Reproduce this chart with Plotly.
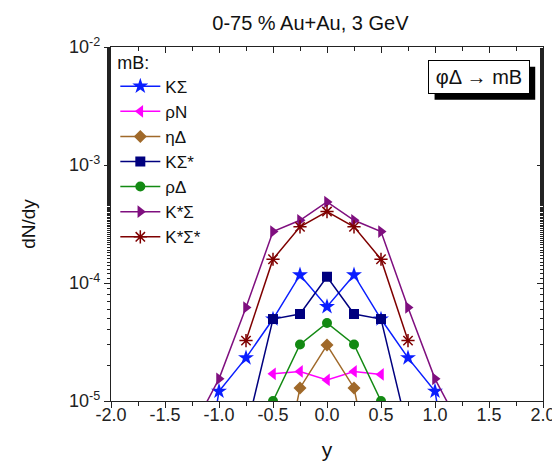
import plotly.graph_objects as go

# ---- data ----
y_rap = [-1.25, -1.0, -0.75, -0.5, -0.25, 0.0, 0.25, 0.5, 0.75, 1.0, 1.25]

KSigma      = [5.0e-7, 1.21e-5, 2.32e-5, 4.95e-5, 1.17e-4, 6.3e-5, 1.17e-4, 4.95e-5, 2.32e-5, 1.21e-5, 5.0e-7]
rhoN        = [None, None, None, 1.70e-5, 1.78e-5, 1.51e-5, 1.78e-5, 1.68e-5, None, None, None]
etaDelta    = [None, None, None, 1.0e-6, 1.29e-5, 2.98e-5, 1.29e-5, 1.0e-6, None, None, None]
KSigmaStar  = [None, None, 5.5e-6, 4.95e-5, 5.46e-5, 1.13e-4, 5.46e-5, 4.95e-5, 5.5e-6, None, None]
rhoDelta    = [None, None, None, 1.0e-5, 3.01e-5, 4.58e-5, 3.01e-5, 1.0e-5, None, None, None]
KstSigma    = [5.7e-6, 1.54e-5, 6.2e-5, 2.73e-4, 3.40e-4, 4.86e-4, 3.40e-4, 2.73e-4, 6.2e-5, 1.54e-5, 5.7e-6]
KstSigmaSt  = [None, None, 3.25e-5, 1.59e-4, 2.99e-4, 4.03e-4, 2.99e-4, 1.59e-4, 3.25e-5, None, None]

x_ticks = [-2.0, -1.5, -1.0, -0.5, 0.0, 0.5, 1.0, 1.5, 2.0]
x_ticklabels = ["-2.0", "-1.5", "-1.0", "-0.5", "0.0", "0.5", "1.0", "1.5", "2.0"]
y_ticks = [1e-5, 1e-4, 1e-3, 1e-2]
y_ticklabels = ["10<sup>-5</sup>", "10<sup>-4</sup>", "10<sup>-3</sup>", "10<sup>-2</sup>"]

series = [
    ("KΣ", KSigma, "#0a1eff", "star", 12, False),
    ("ρN", rhoN, "#ff00ff", "triangle-left", 11, False),
    ("ηΔ", etaDelta, "#a0692a", "diamond", 10, False),
    ("KΣ*", KSigmaStar, "#00007f", "square", 10, False),
    ("ρΔ", rhoDelta, "#138a13", "circle", 10, False),
    ("K*Σ", KstSigma, "#7f0f7f", "triangle-right", 11, False),
    ("K*Σ*", KstSigmaSt, "#7f0000", "asterisk", 11, True),
]

FONT = "Liberation Sans, Arial, sans-serif"

fig = go.Figure()
for i, (name, vals, col, sym, size, is_line_sym) in enumerate(series):
    marker = dict(symbol=sym, size=size, color=col)
    if is_line_sym:
        marker["line"] = dict(color=col, width=1.5)
    fig.add_trace(go.Scatter(
        x=y_rap, y=vals, name=name, mode="lines+markers",
        line=dict(color=col, width=1.5), marker=marker,
        connectgaps=False, legendgroup=f"g{i}",
    ))

axis_common = dict(showline=True, linecolor="#222", linewidth=1.2,
                   showgrid=False, zeroline=False,
                   tickfont=dict(family=FONT, size=18, color="#222"))

fig.update_layout(
    width=560, height=461,
    margin=dict(l=103, r=15, t=39, b=67),
    paper_bgcolor="white", plot_bgcolor="white",
    font=dict(family=FONT, color="#111"),
    title=dict(text="0-75 % Au+Au, 3 GeV", x=0.54, xanchor="center",
               y=0.968, yanchor="middle", font=dict(family=FONT, size=20, color="#111")),
    xaxis=dict(range=[-2, 2], tickvals=x_ticks, ticktext=x_ticklabels,
               ticks="outside", ticklen=6, tickcolor="#222", ticklabelstandoff=-9,
               minor=dict(ticks="outside", dtick=0.25, ticklen=4, tickcolor="#222"),
               title=dict(text="y", font=dict(family=FONT, size=21, color="#111"), standoff=18),
               **axis_common),
    yaxis=dict(type="log", range=[-5, -2], tickvals=y_ticks, ticktext=y_ticklabels,
               ticks="outside", ticklen=6, tickcolor="#222",
               minor=dict(ticks="outside", ticklen=3, tickcolor="#222"),
               title=dict(text="dN/dy", font=dict(family=FONT, size=19, color="#111"), standoff=28),
               **axis_common),
    xaxis2=dict(overlaying="x", side="top", matches="x", range=[-2, 2],
                showline=True, linecolor="#222", linewidth=1.2, showgrid=False, zeroline=False,
                tickvals=x_ticks, ticks="inside", ticklen=6, tickcolor="#222", showticklabels=False,
                minor=dict(ticks="inside", dtick=0.25, ticklen=4, tickcolor="#222")),
    yaxis2=dict(overlaying="y", side="right", type="log", range=[-5, -2],
                showline=True, linecolor="#222", linewidth=1.2, showgrid=False, zeroline=False,
                tickvals=y_ticks, ticks="inside", ticklen=6, tickcolor="#222", showticklabels=False,
                minor=dict(ticks="inside", ticklen=3, tickcolor="#222")),
    showlegend=True,
    legend=dict(x=0.01, y=1.005, xanchor="left", yanchor="top",
                bgcolor="rgba(0,0,0,0)", borderwidth=0,
                title=dict(text="mB:", font=dict(family=FONT, size=18, color="#111")),
                font=dict(family=FONT, size=17, color="#111"),
                tracegroupgap=0, itemwidth=40),
)

# invisible trace to activate the mirrored axes
fig.add_trace(go.Scatter(x=[0], y=[1e-3], xaxis="x2", yaxis="y2", mode="markers",
                         marker=dict(opacity=0), showlegend=False, hoverinfo="skip"))

# label box with drop shadow
fig.add_shape(type="rect", xref="paper", yref="paper", x0=0.749, x1=0.982, y0=0.851, y1=0.944,
              fillcolor="black", line=dict(width=0), layer="above")
fig.add_annotation(xref="paper", yref="paper", x=0.852, y=0.914, xanchor="center", yanchor="middle",
                   text="φΔ → mB",
                   showarrow=False, width=96, height=28, borderpad=2, borderwidth=1,
                   bordercolor="black", bgcolor="white", align="center",
                   font=dict(family=FONT, size=20, color="#111"))

fig.write_html("out.html")
